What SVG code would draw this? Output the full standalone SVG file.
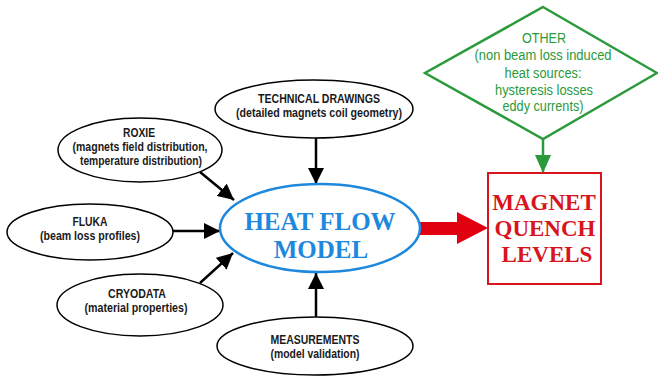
<svg xmlns="http://www.w3.org/2000/svg" width="658" height="379" viewBox="0 0 658 379">
<style>
.src{fill:#fff;stroke:#000;stroke-width:1.5}
.lbl{font-family:"Liberation Sans",Arial,sans-serif;font-weight:bold;font-size:12.5px;fill:#1a1a1a;text-anchor:middle}
.grn{font-family:"Liberation Sans",Arial,sans-serif;font-size:14px;fill:#2a9a3a;text-anchor:middle}
.heat{font-family:"Liberation Serif","Times New Roman",serif;font-weight:bold;font-size:25px;fill:#1e88dd;text-anchor:middle}
.red{font-family:"Liberation Serif","Times New Roman",serif;font-weight:bold;font-size:23px;fill:#d8141c;text-anchor:middle}
.conn{stroke:#000;stroke-width:2.5;fill:none;marker-end:url(#ah)}
</style>
<defs>
<marker id="ah" markerUnits="userSpaceOnUse" markerWidth="16" markerHeight="16" refX="16" refY="8" orient="auto"><path d="M0,0 L16,8 L0,16 z" fill="#000"/></marker>
<marker id="ahg" markerUnits="userSpaceOnUse" markerWidth="16" markerHeight="18" refX="18" refY="8" orient="auto"><path d="M0,0 L18,8 L0,16 z" fill="#2a9a3a"/></marker>
</defs>
<rect width="658" height="379" fill="#fff"/>
<g id="connectors">
<line class="conn" x1="316" y1="138" x2="316" y2="184"/>
<line class="conn" x1="316" y1="317" x2="316" y2="273"/>
<line class="conn" x1="200" y1="172" x2="234" y2="200"/>
<line class="conn" x1="173" y1="231" x2="220" y2="231"/>
<line class="conn" x1="200" y1="283" x2="233" y2="253"/>
<line x1="543" y1="139" x2="543" y2="173" stroke="#2a9a3a" stroke-width="2.5" marker-end="url(#ahg)"/>
<path d="M420,222 L457,222 L457,212 L488,228 L457,244 L457,235 L420,235 z" fill="#e00010"/>
</g>
<g id="roxie">
<ellipse class="src" cx="140" cy="150" rx="82" ry="32"/>
<text class="lbl" x="139" y="137" textLength="32" lengthAdjust="spacingAndGlyphs">ROXIE</text>
<text class="lbl" x="140" y="151" textLength="135" lengthAdjust="spacingAndGlyphs">(magnets field distribution,</text>
<text class="lbl" x="141" y="165" textLength="122" lengthAdjust="spacingAndGlyphs">temperature distribution)</text>
</g>
<g id="fluka">
<ellipse class="src" cx="90" cy="232" rx="83" ry="28"/>
<text class="lbl" x="90" y="226" textLength="35" lengthAdjust="spacingAndGlyphs">FLUKA</text>
<text class="lbl" x="90" y="240" textLength="100" lengthAdjust="spacingAndGlyphs">(beam loss profiles)</text>
</g>
<g id="cryodata">
<ellipse class="src" cx="140" cy="305" rx="83" ry="31"/>
<text class="lbl" x="137" y="298" textLength="58" lengthAdjust="spacingAndGlyphs">CRYODATA</text>
<text class="lbl" x="136" y="312" textLength="103" lengthAdjust="spacingAndGlyphs">(material properties)</text>
</g>
<g id="technical">
<ellipse class="src" cx="314" cy="109" rx="99" ry="29"/>
<text class="lbl" x="319" y="103" textLength="122" lengthAdjust="spacingAndGlyphs">TECHNICAL DRAWINGS</text>
<text class="lbl" x="319" y="117" textLength="166" lengthAdjust="spacingAndGlyphs">(detailed magnets coil geometry)</text>
</g>
<g id="measurements">
<ellipse class="src" cx="315" cy="346" rx="98" ry="29"/>
<text class="lbl" x="315" y="344" textLength="89" lengthAdjust="spacingAndGlyphs">MEASUREMENTS</text>
<text class="lbl" x="315" y="358" textLength="89" lengthAdjust="spacingAndGlyphs">(model validation)</text>
</g>
<g id="heatflow">
<ellipse cx="320" cy="228" rx="100" ry="44" fill="#fff" stroke="#1e88dd" stroke-width="2.5"/>
<text class="heat" x="320" y="230">HEAT FLOW</text>
<text class="heat" x="321" y="258">MODEL</text>
</g>
<g id="other">
<polygon points="543,7 657,73 543,139 425,73" fill="#fff" stroke="#2a9a3a" stroke-width="2.5"/>
<text class="grn" x="544" y="43" textLength="44" lengthAdjust="spacingAndGlyphs">OTHER</text>
<text class="grn" x="543" y="60" textLength="137" lengthAdjust="spacingAndGlyphs">(non beam loss induced</text>
<text class="grn" x="543" y="78" textLength="77" lengthAdjust="spacingAndGlyphs">heat sources:</text>
<text class="grn" x="544" y="95" textLength="98" lengthAdjust="spacingAndGlyphs">hysteresis losses</text>
<text class="grn" x="543" y="111" textLength="81" lengthAdjust="spacingAndGlyphs">eddy currents)</text>
</g>
<g id="quench">
<rect x="488" y="173" width="113" height="111" fill="#fff" stroke="#d8141c" stroke-width="2"/>
<text class="red" x="544" y="210">MAGNET</text>
<text class="red" x="545" y="236">QUENCH</text>
<text class="red" x="547" y="262">LEVELS</text>
</g>
</svg>
